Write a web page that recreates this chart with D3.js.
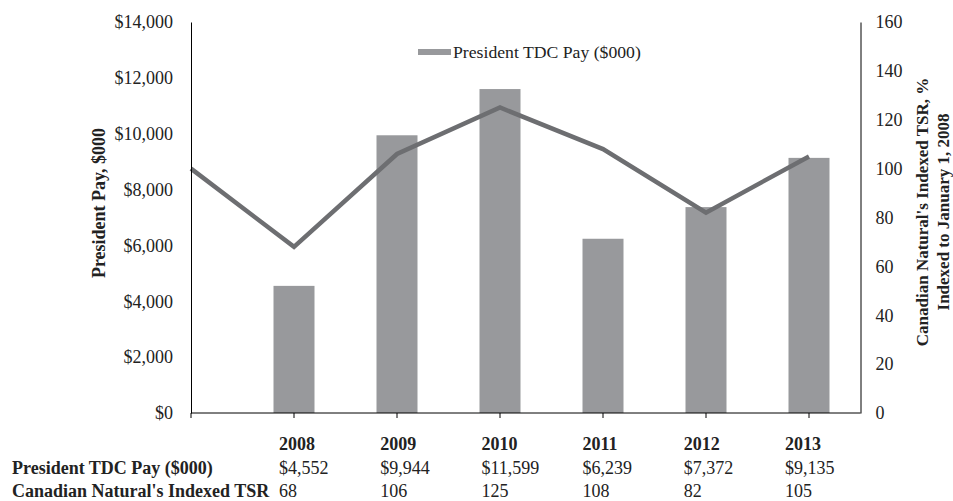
<!DOCTYPE html>
<html><head><meta charset="utf-8">
<script src="https://cdn.jsdelivr.net/npm/d3@7"></script>
<style>body{margin:0;background:#fff}svg{display:block;font-family:"Liberation Serif","Times New Roman",serif}</style>
</head><body>
<svg id="c" width="953" height="501"></svg>
<script>
const years = ["2008","2009","2010","2011","2012","2013"];
const points = ["Jan 1, 2008","2008","2009","2010","2011","2012","2013"];
const payValues = [4552, 9944, 11599, 6239, 7372, 9135];
const tsrValues = [100, 68, 106, 125, 108, 82, 105];
const payLabels = ["$4,552","$9,944","$11,599","$6,239","$7,372","$9,135"];
const tsrLabels = ["68","106","125","108","82","105"];
const leftTicks = [0,2000,4000,6000,8000,10000,12000,14000];
const rightTicks = [0,20,40,60,80,100,120,140,160];

const svg = d3.select("#c");
const x = d3.scalePoint().domain(points).range([191, 809]);
const step = x.step();
const xRight = x(points[points.length-1]) + step/2;
const yL = d3.scaleLinear().domain([0,14000]).range([413,22]);
const yR = d3.scaleLinear().domain([0,160]).range([413,22]);
const barW = 41;
const barColor = "#98999c", lineColor = "#6d6e71";

// bars
svg.append("g").selectAll("rect").data(years).join("rect")
  .attr("x", d => x(d) - barW/2).attr("width", barW)
  .attr("y", (d,i) => yL(payValues[i])).attr("height", (d,i) => yL(0) - yL(payValues[i]))
  .attr("fill", barColor);

// line
svg.append("path").datum(tsrValues)
  .attr("d", d3.line().x((d,i) => x(points[i])).y(d => yR(d)))
  .attr("fill","none").attr("stroke", lineColor).attr("stroke-width", 4.5);

// left axis
const gl = svg.append("g").attr("transform", `translate(${x(points[0])},0)`)
  .call(d3.axisLeft(yL).tickValues(leftTicks).tickSize(0).tickPadding(18).tickFormat(d => "$" + d3.format(",")(d)));
gl.select(".domain").attr("stroke","#000");
gl.selectAll("text").attr("font-size", 18).attr("font-family","Liberation Serif").attr("fill","#222");

// right axis
const gr = svg.append("g").attr("transform", `translate(${xRight},0)`)
  .call(d3.axisRight(yR).tickValues(rightTicks).tickSize(0).tickPadding(15));
gr.select(".domain").attr("stroke","#000");
gr.selectAll("text").attr("font-size", 18).attr("font-family","Liberation Serif").attr("fill","#222");

// x axis
const xa = svg.append("g").attr("transform", `translate(0,${yL(0)})`);
xa.append("line").attr("x1", x(points[0])).attr("x2", xRight).attr("stroke","#000");
xa.selectAll("line.t").data(points).join("line").attr("class","t")
  .attr("x1", d => x(d)).attr("x2", d => x(d)).attr("y1",0).attr("y2",5).attr("stroke","#000");

// axis titles
svg.append("text").attr("transform","translate(105,203) rotate(-90)")
  .attr("text-anchor","middle").attr("font-weight","bold").attr("font-size",18).attr("fill","#222")
  .text("President Pay, $000");
const rt = svg.append("text").attr("transform","translate(928,212) rotate(-90)")
  .attr("text-anchor","middle").attr("font-weight","bold").attr("font-size",17).attr("fill","#222");
rt.append("tspan").attr("x",0).attr("dy",0).text("Canadian Natural's Indexed TSR, %");
rt.append("tspan").attr("x",0).attr("dy",21).text("Indexed to January 1, 2008");

// legend
svg.append("rect").attr("x",418).attr("y",49).attr("width",33).attr("height",6).attr("fill",barColor);
svg.append("text").attr("x",453).attr("y",58).attr("font-size",17.7).attr("fill","#222").text("President TDC Pay ($000)");

// table
const tx = d3.scalePoint().domain(years).range([279, 785]);
const tbl = svg.append("g").attr("font-size",18).attr("fill","#222");
tbl.selectAll("text.yr").data(years).join("text").attr("class","yr")
  .attr("x", d => tx(d)).attr("y", 450).attr("font-weight","bold").text(d => d);
tbl.selectAll("text.pay").data(payLabels).join("text").attr("class","pay")
  .attr("x", (d,i) => tx(years[i])).attr("y", 474).text(d => d);
tbl.selectAll("text.tsr").data(tsrLabels).join("text").attr("class","tsr")
  .attr("x", (d,i) => tx(years[i])).attr("y", 497).text(d => d);
tbl.append("text").attr("x",12).attr("y",474).attr("font-weight","bold").text("President TDC Pay ($000)");
tbl.append("text").attr("x",12).attr("y",497).attr("font-weight","bold").text("Canadian Natural's Indexed TSR");
</script>
</body></html>
